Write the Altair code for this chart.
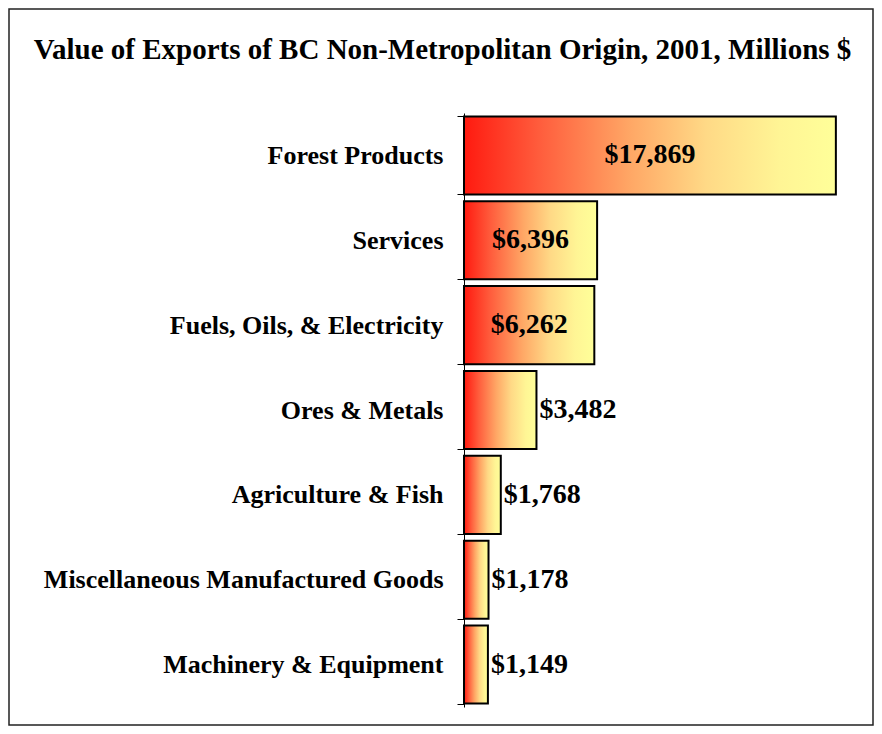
import altair as alt
import pandas as pd

categories = [
    "Forest Products",
    "Services",
    "Fuels, Oils, & Electricity",
    "Ores & Metals",
    "Agriculture & Fish",
    "Miscellaneous Manufactured Goods",
    "Machinery & Equipment",
]
values = [17869, 6396, 6262, 3482, 1768, 1178, 1149]
title_text = "Value of Exports of BC Non-Metropolitan Origin, 2001, Millions $"

df = pd.DataFrame({"category": categories, "value": values})

FONT = "Liberation Serif"

gradient = alt.LinearGradient(
    gradient="linear",
    x1=0, x2=1, y1=0, y2=0,
    stops=[
        alt.GradientStop(color="#ff1a10", offset=0),
        alt.GradientStop(color="#ff5c3c", offset=0.2),
        alt.GradientStop(color="#ffa866", offset=0.45),
        alt.GradientStop(color="#ffd986", offset=0.65),
        alt.GradientStop(color="#fff595", offset=0.85),
        alt.GradientStop(color="#ffff99", offset=1),
    ],
)

y_enc = alt.Y(
    "category:N",
    sort=categories,
    scale=alt.Scale(paddingInner=0.08, paddingOuter=0.04),
    axis=alt.Axis(
        title=None,
        tickBand="extent",
        tickSize=7,
        tickColor="black",
        domainColor="black",
        labelFont=FONT,
        labelFontSize=26,
        labelFontWeight="bold",
        labelColor="black",
        labelPadding=14,
        labelLimit=500,
    ),
)
x_enc = alt.X("value:Q", scale=alt.Scale(domain=[0, 18500], nice=False), axis=None)

base = alt.Chart(df).transform_calculate(
    label='"$" + format(datum.value, ",")', half="datum.value / 2"
)

bars = base.mark_bar(color=gradient, stroke="black", strokeWidth=2).encode(
    x=x_enc, y=y_enc
)

inside = base.transform_filter("datum.value >= 5000").mark_text(
    font=FONT, fontSize=28, fontWeight="bold", color="black", align="center", baseline="middle"
).encode(x=alt.X("half:Q"), y=alt.Y("category:N", sort=categories), text="label:N")

outside = base.transform_filter("datum.value < 5000").mark_text(
    font=FONT, fontSize=28, fontWeight="bold", color="black", align="left", baseline="middle", dx=3
).encode(x=alt.X("value:Q"), y=alt.Y("category:N", sort=categories), text="label:N")

frame = alt.Chart(pd.DataFrame({"f": [0]})).mark_rect(
    filled=False, stroke="#222222", strokeWidth=1.5
).encode(
    x=alt.value(-455), x2=alt.value(409), y=alt.value(-104), y2=alt.value(612)
)

chart = (
    alt.layer(bars, inside, outside, frame)
    .properties(
        width=385,
        height=594,
        title=alt.TitleParams(
            title_text,
            font=FONT,
            fontSize=29,
            fontWeight="bold",
            color="black",
            anchor="middle",
            baseline="alphabetic",
            offset=-80,
            dx=-214,
        ),
        autosize=alt.AutoSizeParams(type="none"),
        padding={"left": 456, "top": 105, "right": 25, "bottom": 19},
    )
    .configure_view(stroke=None)
)

chart.save("out.html", embed_options={"renderer": "svg", "actions": False})
